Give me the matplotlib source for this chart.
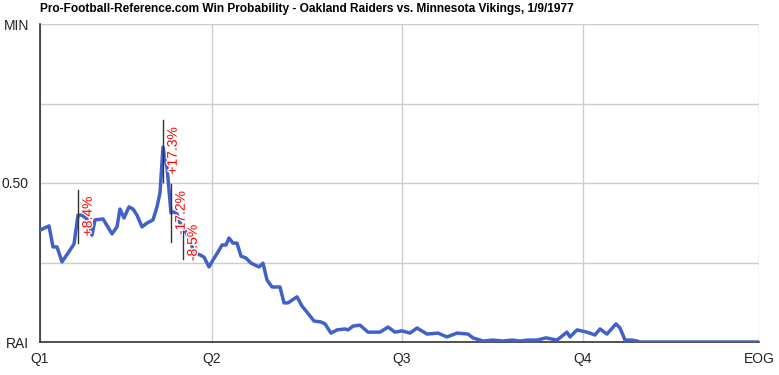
import matplotlib.pyplot as plt
import matplotlib.patheffects as pe

plt.rcParams['font.family'] = ['Liberation Sans', 'DejaVu Sans']

LINE_C = '#4161c9'
TXT_C = '#222222'
GRID_C = '#cccccc'

# game progress (x) and win probability for Minnesota (0 = RAI, 1 = MIN)
prog = [0, 9, 13, 17, 22, 30, 34, 38, 42, 47, 52, 55, 63, 72, 77, 80, 84, 89, 93, 97,
        102, 107, 113, 117, 120, 123, 126, 127, 131, 134, 137, 140, 145, 148, 155, 160,
        164, 169, 173, 178, 182, 186, 189, 193, 197, 201, 206, 211, 219, 223, 227, 232,
        240, 244, 248, 257, 262, 267, 274, 281, 285, 291, 297, 305, 308, 313, 320, 328,
        340, 348, 355, 362, 370, 377, 387, 398, 407, 417, 428, 433, 443, 453, 463, 472,
        480, 488, 497, 506, 517, 527, 530, 537, 547, 555, 560, 567, 576, 580, 585, 592,
        597, 600, 719]
wp = [0.352, 0.365, 0.299, 0.299, 0.252, 0.289, 0.308, 0.399, 0.399, 0.387, 0.336, 0.384,
      0.387, 0.340, 0.362, 0.418, 0.390, 0.425, 0.418, 0.399, 0.362, 0.374, 0.384, 0.425,
      0.469, 0.613, 0.563, 0.550, 0.406, 0.409, 0.403, 0.374, 0.352, 0.330, 0.280, 0.274,
      0.267, 0.236, 0.258, 0.283, 0.305, 0.305, 0.327, 0.311, 0.311, 0.270, 0.264, 0.248,
      0.236, 0.248, 0.195, 0.173, 0.173, 0.123, 0.123, 0.142, 0.113, 0.094, 0.066, 0.063,
      0.057, 0.028, 0.038, 0.041, 0.038, 0.050, 0.053, 0.031, 0.031, 0.047, 0.031, 0.035,
      0.028, 0.044, 0.025, 0.028, 0.016, 0.028, 0.025, 0.013, 0.003, 0.006, 0.003, 0.006,
      0.003, 0.006, 0.006, 0.013, 0.006, 0.031, 0.016, 0.038, 0.031, 0.022, 0.041, 0.025,
      0.057, 0.044, 0.006, 0.006, 0.003, 0.0, 0.0]

# big swings: position, low, high, label
swing_x = [38, 123, 131, 143]
swing_lo = [0.311, 0.503, 0.314, 0.261]
swing_hi = [0.478, 0.698, 0.497, 0.362]
swing_lbl = ['+8.4%', '+17.3%', '-17.2%', '-8.5%']

q_pos = [0, 172, 362, 543, 719]
q_lbl = ['Q1', 'Q2', 'Q3', 'Q4', 'EOG']
y_pos = [0, 0.5, 1]
y_lbl = ['RAI', '0.50', 'MIN']
y_grid = [0.25, 0.75]

W, H = 779, 375
fig = plt.figure(figsize=(W / 100, H / 100), dpi=100)
ax = fig.add_axes([40 / W, (H - 342) / H, 719 / W, 318 / H])

ax.plot(prog, wp, color=LINE_C, lw=2.5, solid_joinstyle='round', zorder=3)

for x, lo, hi, lbl in zip(swing_x, swing_lo, swing_hi, swing_lbl):
    ax.plot([x, x], [lo, hi], color='#333333', lw=1.0, zorder=4)
    ax.annotate(lbl, (x, (lo + hi) / 2), xytext=(7, 0), textcoords='offset points',
                rotation=90, ha='center', va='center', color='#ff0000', fontsize=10,
                zorder=5, path_effects=[pe.withStroke(linewidth=2, foreground='white')])

ax.set_xlim(0, 719)
ax.set_ylim(0, 1)
ax.set_xticks(q_pos)
ax.set_xticklabels(q_lbl)
ax.set_yticks(y_pos)
ax.set_yticklabels(y_lbl)
ax.set_yticks(y_grid, minor=True)
ax.tick_params(which='both', length=0, labelsize=10, labelcolor=TXT_C)
ax.tick_params(axis='y', pad=8)
ax.tick_params(axis='x', pad=7)
ax.grid(True, which='both', color=GRID_C, lw=1)
ax.set_axisbelow(True)
for s in ['top', 'right']:
    ax.spines[s].set_visible(False)
for s in ['left', 'bottom']:
    ax.spines[s].set_color('#333333')
    ax.spines[s].set_linewidth(1.2)

fig.text(40 / W, 1 - 9 / H, 'Pro-Football-Reference.com Win Probability - Oakland Raiders vs. '
         'Minnesota Vikings, 1/9/1977', fontsize=8.6, fontweight='bold', color='#000000',
         va='center', ha='left')

fig.savefig('out.png', dpi=100)
